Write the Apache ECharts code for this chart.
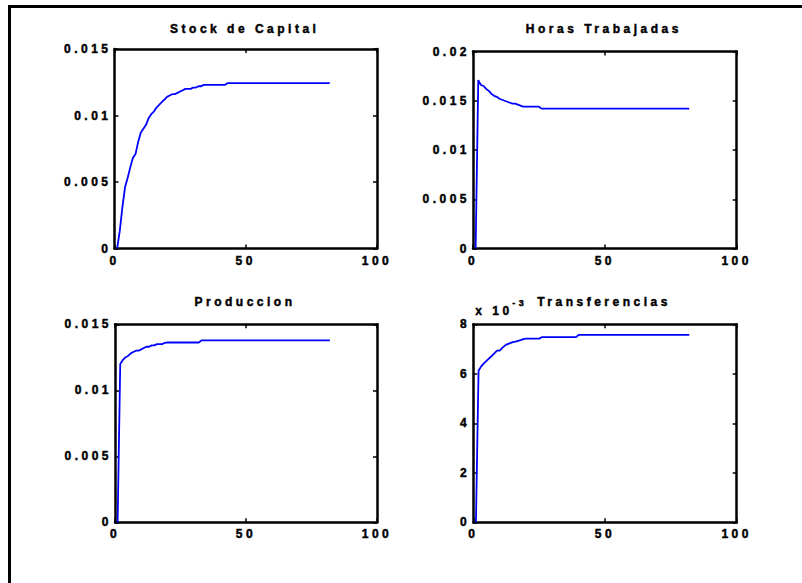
<!DOCTYPE html>
<html>
<head>
<meta charset="utf-8">
<title>Impulso-respuesta</title>
<script src="https://cdn.jsdelivr.net/npm/echarts@6/dist/echarts.min.js"></script>
<style>
  html, body { margin: 0; padding: 0; background: #fff; }
  #chart { width: 802px; height: 583px; }
  /* wide tracking for every label, in the style of the old plotting tool */
  #chart svg text { letter-spacing: 3.5px; }
</style>
</head>
<body>
<div id="chart"></div>
<script>
// Responses over periods 1..82 (first period is the pre-shock zero)
const firstPeriod = 1;

const stockCapital = [
  0, 0.0013, 0.0031, 0.0046, 0.0053, 0.0061, 0.0068, 0.0071, 0.0080, 0.0087,
  0.0090, 0.0093, 0.0098, 0.0101, 0.0103, 0.0106, 0.0108, 0.0110, 0.0112, 0.0114,
  0.0115, 0.0116, 0.0116, 0.0117, 0.0118, 0.0119, 0.0120, 0.0120, 0.0120, 0.0121,
  0.0121, 0.0122, 0.0122, 0.0123, 0.0123, 0.0123, 0.0123, 0.0123, 0.0123, 0.0123,
  0.0123, 0.0123, 0.01243, 0.01243, 0.01243, 0.01243, 0.01243, 0.01243, 0.01243, 0.01243,
  0.01243, 0.01243, 0.01243, 0.01243, 0.01243, 0.01243, 0.01243, 0.01243, 0.01243, 0.01243,
  0.01243, 0.01243, 0.01243, 0.01243, 0.01243, 0.01243, 0.01243, 0.01243, 0.01243, 0.01243,
  0.01243, 0.01243, 0.01243, 0.01243, 0.01243, 0.01243, 0.01243, 0.01243, 0.01243, 0.01243,
  0.01243, 0.01243
];

const horasTrabajadas = [
  0, 0.0171, 0.0166, 0.0165, 0.0162, 0.0160, 0.0157, 0.0155, 0.0154, 0.0152,
  0.0151, 0.0150, 0.0149, 0.0148, 0.0147, 0.0147, 0.0146, 0.0145, 0.0144, 0.0144,
  0.0144, 0.0144, 0.0144, 0.0144, 0.0144, 0.0142, 0.0142, 0.0142, 0.0142, 0.0142,
  0.0142, 0.0142, 0.0142, 0.0142, 0.0142, 0.0142, 0.0142, 0.0142, 0.0142, 0.0142,
  0.0142, 0.0142, 0.0142, 0.0142, 0.0142, 0.0142, 0.0142, 0.0142, 0.0142, 0.0142,
  0.0142, 0.0142, 0.0142, 0.0142, 0.0142, 0.0142, 0.0142, 0.0142, 0.0142, 0.0142,
  0.0142, 0.0142, 0.0142, 0.0142, 0.0142, 0.0142, 0.0142, 0.0142, 0.0142, 0.0142,
  0.0142, 0.0142, 0.0142, 0.0142, 0.0142, 0.0142, 0.0142, 0.0142, 0.0142, 0.0142,
  0.0142, 0.0142
];

const produccion = [
  0, 0.0120, 0.0123, 0.0125, 0.0126, 0.0128, 0.0129, 0.0130, 0.0130, 0.0131,
  0.0132, 0.0133, 0.0133, 0.0134, 0.0134, 0.0135, 0.0135, 0.0135, 0.0136, 0.01362,
  0.01362, 0.01362, 0.01362, 0.01362, 0.01362, 0.01362, 0.01362, 0.01362, 0.01362, 0.01362,
  0.01362, 0.01362, 0.01378, 0.01378, 0.01378, 0.01378, 0.01378, 0.01378, 0.01378, 0.01378,
  0.01378, 0.01378, 0.01378, 0.01378, 0.01378, 0.01378, 0.01378, 0.01378, 0.01378, 0.01378,
  0.01378, 0.01378, 0.01378, 0.01378, 0.01378, 0.01378, 0.01378, 0.01378, 0.01378, 0.01378,
  0.01378, 0.01378, 0.01378, 0.01378, 0.01378, 0.01378, 0.01378, 0.01378, 0.01378, 0.01378,
  0.01378, 0.01378, 0.01378, 0.01378, 0.01378, 0.01378, 0.01378, 0.01378, 0.01378, 0.01378,
  0.01378, 0.01378
];

const transferencias = [
  0, 0.00612, 0.00630, 0.00642, 0.00652, 0.00662, 0.00672, 0.00683, 0.00694, 0.00694,
  0.00705, 0.00714, 0.00720, 0.00724, 0.00728, 0.00730, 0.00733, 0.00736, 0.00740, 0.00742,
  0.00742, 0.00742, 0.00742, 0.00742, 0.00742, 0.00748, 0.00748, 0.00748, 0.00748, 0.00748,
  0.00748, 0.00748, 0.00748, 0.00748, 0.00748, 0.00748, 0.00748, 0.00748, 0.00748, 0.00757,
  0.00757, 0.00757, 0.00757, 0.00757, 0.00757, 0.00757, 0.00757, 0.00757, 0.00757, 0.00757,
  0.00757, 0.00757, 0.00757, 0.00757, 0.00757, 0.00757, 0.00757, 0.00757, 0.00757, 0.00757,
  0.00757, 0.00757, 0.00757, 0.00757, 0.00757, 0.00757, 0.00757, 0.00757, 0.00757, 0.00757,
  0.00757, 0.00757, 0.00757, 0.00757, 0.00757, 0.00757, 0.00757, 0.00757, 0.00757, 0.00757,
  0.00757, 0.00757
];

const titles = ['Stock de Capital', 'Horas Trabajadas', 'Produccion', 'Transferencias'];
const xTicks = { min: 0, max: 100, interval: 50 };
const yScales = [
  { min: 0, max: 0.015, interval: 0.005, scale: 1 },
  { min: 0, max: 0.02, interval: 0.005, scale: 1 },
  { min: 0, max: 0.015, interval: 0.005, scale: 1 },
  { min: 0, max: 0.008, interval: 0.002, scale: 1000 }
];
const seriesData = [stockCapital, horasTrabajadas, produccion, transferencias];

// ---- layout ----
const panels = [
  { left: 114.5, top: 49, width: 262.5, height: 199.5, titleTop: 18 },
  { left: 473, top: 51.5, width: 263.7, height: 197, titleTop: 18 },
  { left: 115, top: 324.3, width: 262, height: 198, titleTop: 291 },
  { left: 473.3, top: 324.3, width: 263.4, height: 198, titleTop: 291 }
];

const FONT = 'Liberation Sans, Arial, Helvetica, sans-serif';
const BLACK = '#000';
const heavy = { textBorderColor: BLACK, textBorderWidth: 0.45 };
const labelFont = Object.assign({ fontFamily: FONT, fontSize: 12, fontWeight: 'bold', color: BLACK }, heavy);
const lineStyle = { color: BLACK, width: 2.5 };
const tickStyle = { inside: true, length: 4, lineStyle: { color: BLACK, width: 1.5 } };

function fmt(v, scale) {
  return String(+(v * scale).toFixed(4));
}

const grid = [], xAxis = [], yAxis = [], series = [], title = [];

panels.forEach((p, i) => {
  grid.push({ left: p.left, top: p.top, width: p.width, height: p.height,
              containLabel: false, outerBoundsMode: 'none' });

  // bottom axis with labels, top axis as the mirrored box edge
  xAxis.push({
    gridIndex: i, type: 'value', position: 'bottom',
    min: xTicks.min, max: xTicks.max, interval: xTicks.interval,
    axisLine: { show: true, lineStyle }, axisTick: tickStyle, splitLine: { show: false },
    axisLabel: Object.assign({ margin: 6, showMinLabel: true, showMaxLabel: true }, labelFont)
  });
  xAxis.push({
    gridIndex: i, type: 'value', position: 'top',
    min: xTicks.min, max: xTicks.max, interval: xTicks.interval,
    axisLine: { show: true, onZero: false, lineStyle }, axisTick: tickStyle,
    splitLine: { show: false }, axisLabel: { show: false }
  });

  const ys = yScales[i];
  const leftY = {
    gridIndex: i, type: 'value', position: 'left',
    min: ys.min, max: ys.max, interval: ys.interval,
    axisLine: { show: true, onZero: false, lineStyle }, axisTick: tickStyle,
    splitLine: { show: false },
    axisLabel: Object.assign({ margin: 3, showMinLabel: true, showMaxLabel: true,
                               formatter: v => fmt(v, ys.scale) }, labelFont)
  };
  if (ys.scale !== 1) {
    // scale factor written as "x 10^-3" above the axis
    leftY.name = '{m|x 10}{sup|-3}';
    leftY.nameLocation = 'end';
    leftY.nameGap = 7;
    leftY.nameTextStyle = Object.assign({
      align: 'left', verticalAlign: 'bottom',
      fontFamily: FONT, fontSize: 12, fontWeight: 'bold', color: BLACK,
      padding: [0, 0, 0, 2],
      rich: {
        m: Object.assign({ fontFamily: FONT, fontSize: 12, fontWeight: 'bold', color: BLACK,
             verticalAlign: 'bottom', lineHeight: 19 }, heavy),
        sup: Object.assign({ fontFamily: FONT, fontSize: 9, fontWeight: 'bold', color: BLACK,
               verticalAlign: 'top', lineHeight: 19, padding: [0, 0, 0, 13.5] }, heavy)
      }
    }, heavy);
  }
  yAxis.push(leftY);
  yAxis.push({
    gridIndex: i, type: 'value', position: 'right',
    min: ys.min, max: ys.max, interval: ys.interval,
    axisLine: { show: true, onZero: false, lineStyle }, axisTick: tickStyle,
    splitLine: { show: false }, axisLabel: { show: false }
  });

  series.push({
    type: 'line', xAxisIndex: 2 * i, yAxisIndex: 2 * i,
    data: seriesData[i].map((v, k) => [firstPeriod + k, v]),
    showSymbol: false, symbol: 'none', smooth: false,
    lineStyle: { color: '#0000ff', width: 1.8 },
    z: 3
  });

  title.push({
    text: titles[i],
    left: p.left + p.width / 2 - 6, top: p.titleTop, textAlign: 'center',
    textStyle: Object.assign({ fontFamily: FONT, fontSize: 12, fontWeight: 'bold', color: BLACK }, heavy)
  });
});

const chart = echarts.init(document.getElementById('chart'), null, { renderer: 'svg' });
chart.setOption({
  backgroundColor: '#fff',
  animation: false,
  title, grid, xAxis, yAxis, series,
  // figure frame along the top and left edges
  graphic: [
    { type: 'line', shape: { x1: 8, y1: 6.5, x2: 802, y2: 6.5 }, style: { stroke: BLACK, lineWidth: 3 } },
    { type: 'line', shape: { x1: 9.5, y1: 5, x2: 9.5, y2: 583 }, style: { stroke: BLACK, lineWidth: 3 } }
  ]
});
</script>
</body>
</html>
